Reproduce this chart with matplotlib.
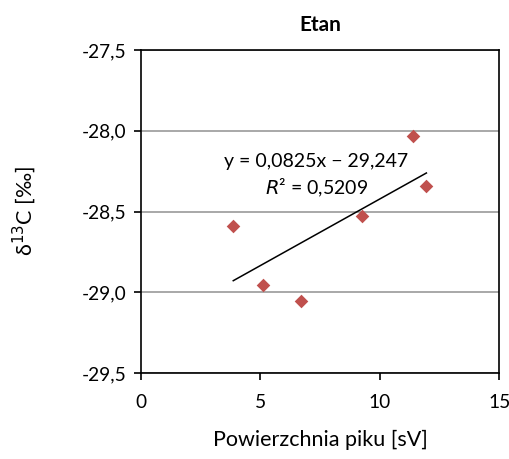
import matplotlib
matplotlib.use("Agg")
import matplotlib.pyplot as plt
import numpy as np

# Data
area = [3.87, 5.10, 6.71, 9.27, 11.37, 11.95]
delta13c = [-28.59, -28.955, -29.056, -28.528, -28.032, -28.342]
x_ticks = [0, 5, 10, 15]
y_ticks = [-29.5, -29.0, -28.5, -28.0, -27.5]

plt.rcParams["font.family"] = ["Lato", "DejaVu Sans"]

fig = plt.figure(figsize=(5.1, 4.59), dpi=100)
ax = fig.add_axes([0.276, 0.1874, 0.703, 0.7036])

ax.scatter(area, delta13c, marker="D", s=48, color="#c0504d", zorder=3, linewidths=0)

# linear trend line
slope, intercept = np.polyfit(area, delta13c, 1)
xs = np.array([min(area), max(area)])
ax.plot(xs, slope * xs + intercept, color="black", lw=1.1, zorder=2)

ax.text(7.35, -28.28, "y = 0,0825x \u2212 29,247\n$R$² = 0,5209", ha="center",
        va="center", fontsize=14, linespacing=1.35)

ax.set_xlim(0, 15)
ax.set_ylim(-29.5, -27.5)
ax.set_xticks(x_ticks)
ax.set_xticklabels([str(t) for t in x_ticks])
ax.set_yticks(y_ticks)
ax.set_yticklabels([f"{t:.1f}".replace(".", ",") for t in y_ticks])
ax.tick_params(direction="out", length=5, width=1.2, labelsize=13.8, pad=5)
ax.tick_params(axis="x", pad=10)
ax.yaxis.grid(True, color="#999999", lw=1.2)
ax.set_axisbelow(True)
for s in ax.spines.values():
    s.set_linewidth(1.2)
    s.set_color("black")

ax.set_title("Etan", fontsize=15, fontweight="bold", pad=14)
ax.set_xlabel("Powierzchnia piku [sV]", fontsize=15.5, labelpad=14)
ax.set_ylabel("δ$^{13}$C [‰]", fontsize=15.5, labelpad=32)

fig.savefig("out.png", dpi=100)
